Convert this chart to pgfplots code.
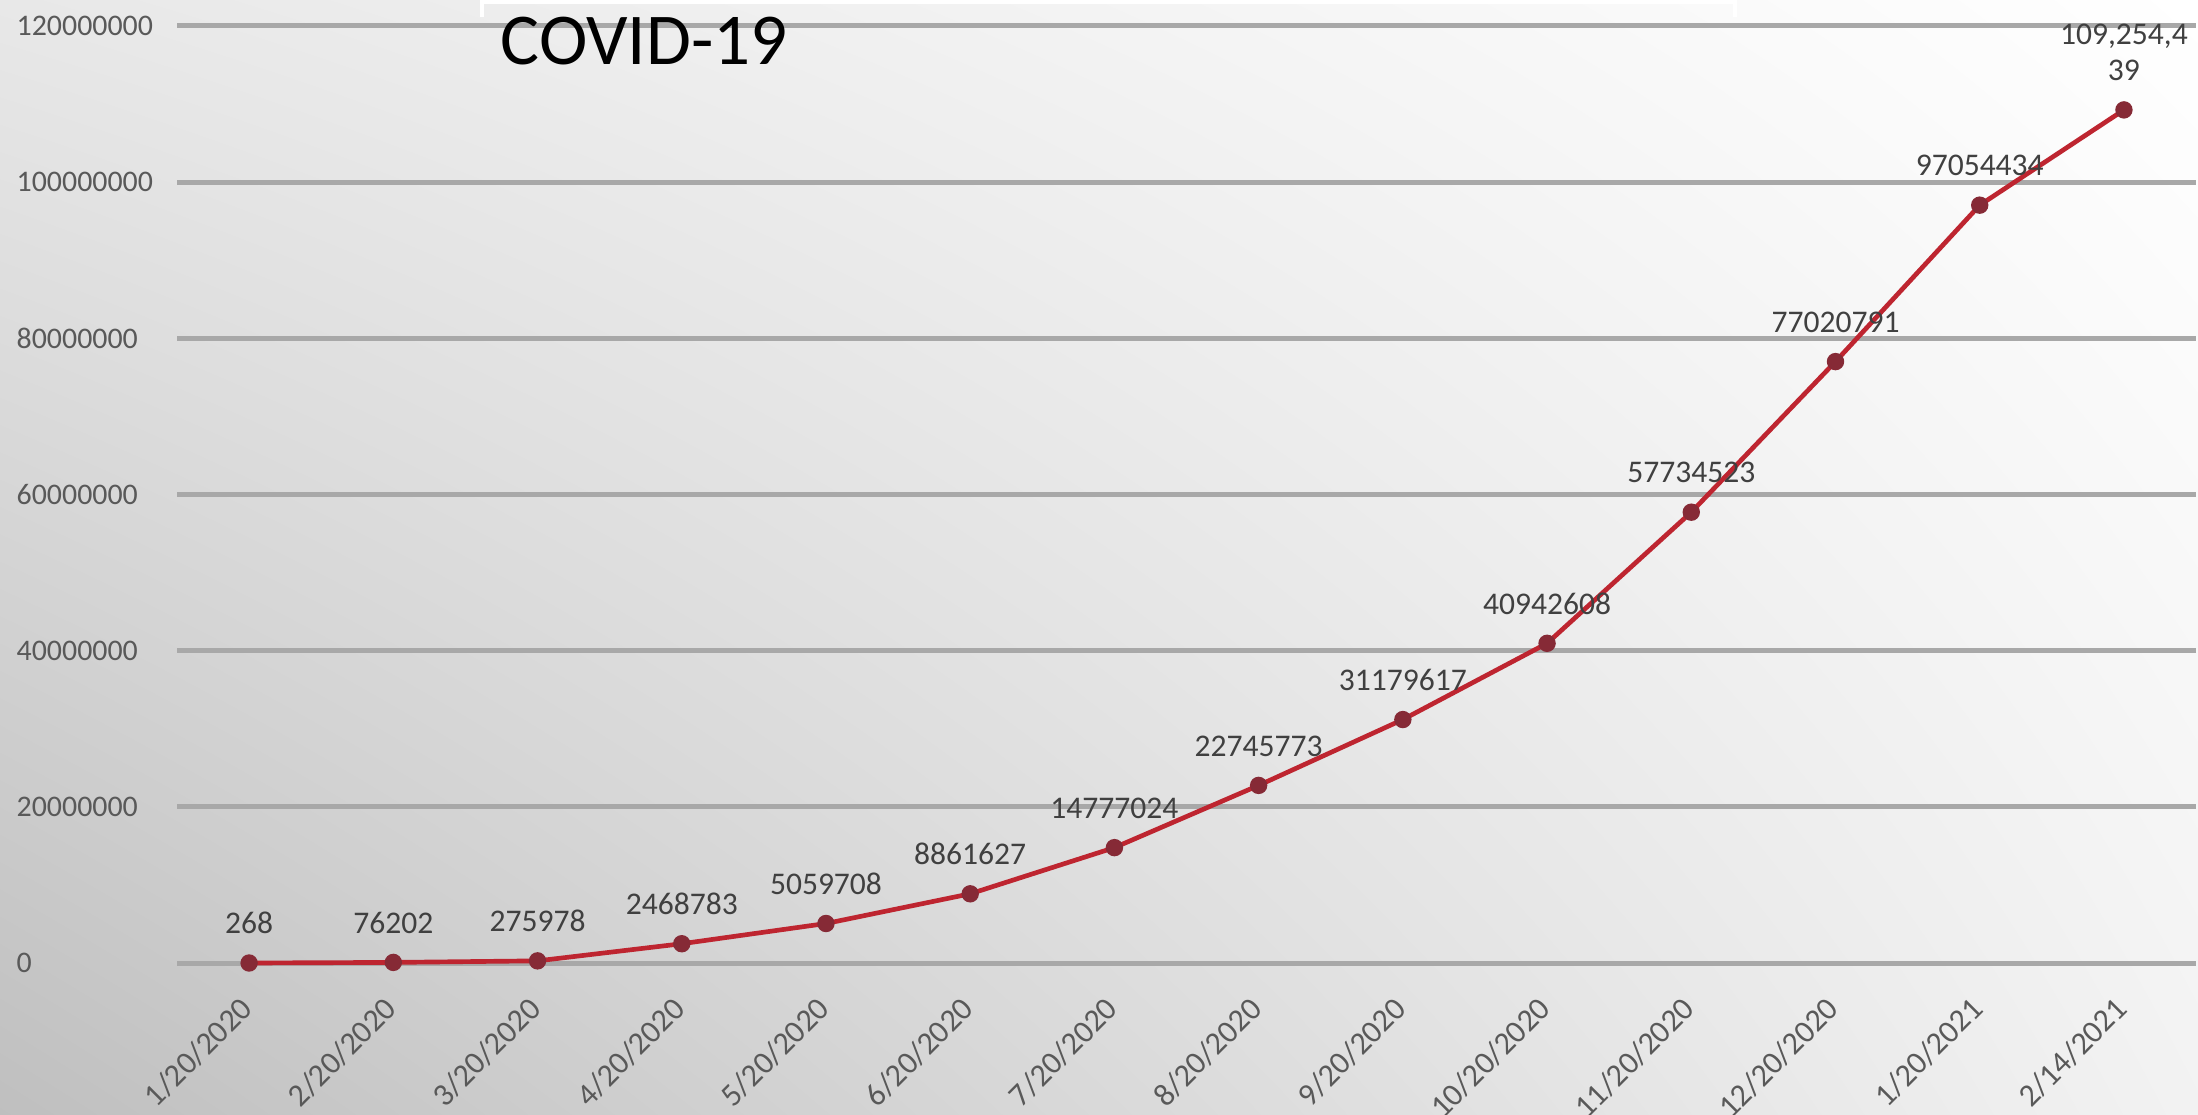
\documentclass[border=0pt]{standalone}
\usepackage{pgfplots}
\pgfplotsset{compat=1.18}
\usetikzlibrary{shadings}
\usepackage{fontspec}
\setmainfont{Carlito}
\definecolor{linered}{HTML}{BE2530}
\definecolor{markred}{HTML}{862A36}
\definecolor{gridgray}{HTML}{A8A8A8}
\definecolor{ticklab}{HTML}{595959}
\definecolor{datalab}{HTML}{404040}
\begin{document}
\begin{tikzpicture}[x=1bp,y=1bp]
\useasboundingbox (0,0) rectangle (659.4,334.2);
\shade[shading=bilinear interpolation, lower left=black!25, upper left=black!9, lower right=black!5, upper right=white] (0,0) rectangle (659.4,334.2);
\draw[white, line width=1bp] (144.6,329) -- (144.6,333.6) -- (520.5,333.6) -- (520.5,329);
\begin{axis}[
  at={(53.1bp,45.3bp)}, anchor=south west,
  scale only axis, width=605.7bp, height=281.1bp,
  xmin=-0.5, xmax=13.5, ymin=0, ymax=120000000,
  clip=false,
  axis line style={draw=none},
  major tick length=0pt,
  ymajorgrids, grid style={gridgray, line width=1.5bp},
  xtick={0,...,13},
  xticklabels={1/20/2020,2/20/2020,3/20/2020,4/20/2020,5/20/2020,6/20/2020,7/20/2020,8/20/2020,9/20/2020,10/20/2020,11/20/2020,12/20/2020,1/20/2021,2/14/2021},
  ytick={0,20000000,40000000,60000000,80000000,100000000,120000000},
  yticklabels={0,20000000,40000000,60000000,80000000,100000000,120000000},
  ticklabel style={font=\fontsize{9}{10}\selectfont, text=ticklab, inner sep=0pt},
  yticklabel style={anchor=west, xshift=-48.3bp},
  xticklabel style={font=\fontsize{9.6}{10}\selectfont, xshift=-0.6bp, yshift=-12bp, rotate=45, anchor=east},
  nodes near coords,
  point meta=explicit symbolic,
  nodes near coords style={font=\fontsize{9.5}{11}\selectfont, text=datalab, anchor=south, inner sep=0pt, yshift=8bp, align=center},
]
\addplot[color=linered, line width=1.4bp, mark=*, mark size=1.9bp, mark options={fill=markred, draw=markred}]
coordinates {
(0,268) [268]
(1,76202) [76202]
(2,275978) [275978]
(3,2468783) [2468783]
(4,5059708) [5059708]
(5,8861627) [8861627]
(6,14777024) [14777024]
(7,22745773) [22745773]
(8,31179617) [31179617]
(9,40942608) [40942608]
(10,57734523) [57734523]
(11,77020791) [77020791]
(12,97054434) [97054434]
(13,109254439) [{109,254,4\\39}]
};
\end{axis}
\node[anchor=base west, inner sep=0pt, font=\fontsize{22}{26}\selectfont] at (150,314.85) {COVID-19};
\end{tikzpicture}
\end{document}
